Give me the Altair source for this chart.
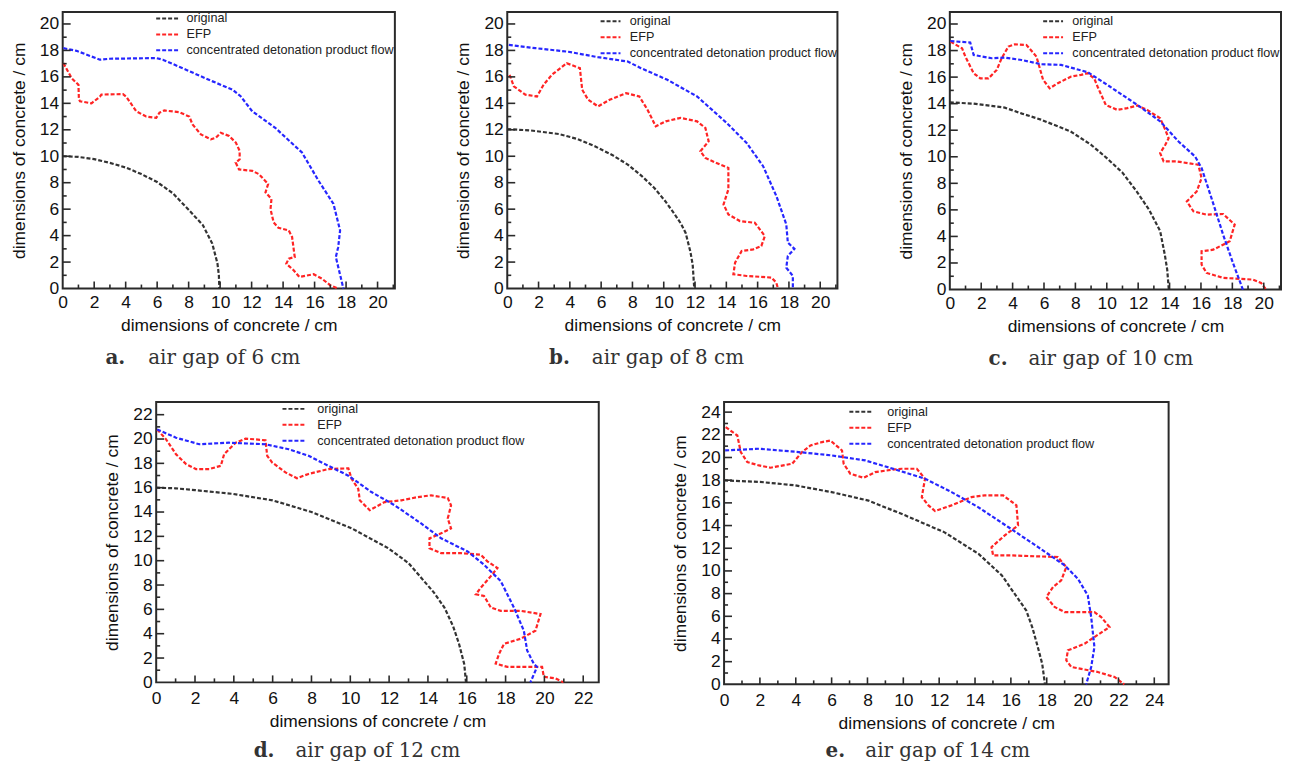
import altair as alt
import pandas as pd

SERIES = ["original", "EFP", "concentrated detonation product flow"]
COLORS = ["#333333", "#ff2424", "#2626ff"]
FRAME = "#2a2a2a"
FONT = "Liberation Sans"
AXIS_TITLE = "dimensions of concrete / cm"

# ---------------- panel a : air gap of 6 cm ----------------
A_ORIG_X = [0, 1, 2, 3, 4, 5, 6, 7, 8, 8.9, 9.5, 9.83, 9.92, 9.95]
A_ORIG_Y = [10.0, 9.95, 9.78, 9.5, 9.15, 8.65, 8.05, 7.2, 5.95, 4.8, 3.4, 1.9, 1.0, 0.0]
A_EFP_X = [0.04, 0.57, 1.0, 1.03, 1.1, 1.83, 2.36, 2.46, 3.83, 4.04, 4.67, 5.3, 5.94, 6.15, 6.46,
           7.4, 8.04, 8.25, 8.78, 9.41, 9.73, 10.04, 10.57, 11.0, 11.24, 11.24, 10.99, 11.2, 12.04,
           12.46, 13.05, 12.88, 13.26, 13.2, 13.4, 13.7, 14.36, 14.57, 14.74, 14.36, 14.2, 14.67,
           15.03, 15.94, 16.46, 16.99, 17.5]
A_EFP_Y = [17.04, 15.9, 15.4, 14.3, 14.16, 14.0, 14.5, 14.66, 14.7, 14.5, 13.4, 13.0, 12.9, 13.3,
           13.46, 13.33, 13.0, 12.4, 11.65, 11.28, 11.4, 11.78, 11.53, 11.03, 10.4, 9.77, 9.52, 9.0,
           8.9, 8.65, 7.9, 7.27, 6.77, 6.0, 5.0, 4.6, 4.39, 3.9, 2.38, 2.26, 1.88, 1.38, 0.88, 1.08,
           0.75, 0.25, 0.0]
A_CDPF_X = [0.04, 0.88, 2.36, 2.99, 5.94, 6.36, 7.83, 9.52, 10.78, 11.3, 12.04, 13.5, 15.2, 16.25,
            17.2, 17.62, 17.5, 17.35, 17.83]
A_CDPF_Y = [18.17, 17.97, 17.3, 17.37, 17.42, 17.3, 16.54, 15.66, 15.04, 14.54, 13.4, 12.15, 10.28,
            8.15, 6.4, 4.39, 3.13, 2.38, 0.0]

# ---------------- panel b : air gap of 8 cm ----------------
B_ORIG_X = [0, 1.5, 3.3, 4.5, 5.6, 6.7, 7.7, 8.6, 9.4, 10.1, 10.65, 11.1, 11.4, 11.7, 11.85, 11.95]
B_ORIG_Y = [12.05, 11.95, 11.68, 11.3, 10.75, 10.1, 9.37, 8.5, 7.6, 6.6, 5.7, 4.9, 4.2, 2.8, 1.8, 0.0]
B_EFP_X = [0.15, 0.42, 1.16, 1.9, 2.32, 2.85, 3.8, 4.64, 4.79, 5.17, 5.8, 6.54, 7.59, 8.44, 8.97,
           9.49, 10.13, 11.08, 12.13, 12.66, 12.87, 12.34, 12.66, 13.6, 14.13, 14.13, 13.82, 14.13,
           14.87, 15.82, 16.46, 16.24, 15.72, 14.98, 14.56, 14.45, 15.3, 16.88, 17.19, 17.3]
B_EFP_Y = [16.16, 15.28, 14.65, 14.52, 15.4, 16.16, 17.03, 16.66, 15.03, 14.27, 13.77, 14.27, 14.77,
           14.52, 13.5, 12.26, 12.64, 12.9, 12.64, 12.14, 11.13, 10.38, 9.87, 9.37, 9.12, 7.49, 6.36,
           5.6, 5.1, 4.97, 3.97, 3.22, 2.96, 2.84, 1.96, 1.08, 0.95, 0.83, 0.45, 0.0]
B_CDPF_X = [0.1, 1.8, 3.9, 5.8, 7.7, 8.54, 10.23, 12.13, 14.03, 15.3, 16.35, 17.2, 17.83, 17.93,
            18.35, 17.93, 17.83, 18.25, 18.25]
B_CDPF_Y = [18.42, 18.17, 17.9, 17.49, 17.16, 16.66, 15.78, 14.52, 12.51, 11.0, 9.25, 6.98, 4.85,
            3.47, 3.0, 2.46, 1.58, 0.95, 0.0]

# ---------------- panel c : air gap of 10 cm ----------------
C_ORIG_X = [0, 1.5, 3.5, 4.6, 5.8, 7.7, 9.0, 10.0, 11.0, 11.9, 12.7, 13.4, 13.7, 13.85, 13.95]
C_ORIG_Y = [14.1, 14.0, 13.7, 13.25, 12.8, 11.9, 10.9, 9.9, 8.8, 7.4, 6.0, 4.4, 2.6, 1.5, 0.0]
C_EFP_X = [0.04, 0.78, 0.99, 1.52, 1.94, 2.46, 2.99, 3.3, 3.73, 4.15, 4.88, 5.52, 5.73, 5.94, 6.36,
           6.88, 7.73, 8.36, 8.78, 9.2, 9.41, 9.94, 10.67, 11.3, 11.94, 12.57, 13.4, 13.73, 13.94,
           13.73, 13.4, 13.62, 14.46, 15.83, 16.04, 15.73, 15.1, 15.52, 16.36, 17.41, 18.15, 17.83,
           16.78, 16.04, 16.04, 16.36, 17.41, 19.3, 19.83, 20.15]
C_EFP_Y = [18.67, 18.17, 17.54, 16.29, 15.9, 15.9, 16.54, 17.42, 18.3, 18.47, 18.42, 17.54, 16.67,
           15.8, 15.16, 15.54, 16.04, 16.17, 16.29, 15.9, 15.29, 13.9, 13.53, 13.66, 13.86, 13.53,
           12.9, 12.03, 11.4, 10.9, 10.28, 9.65, 9.65, 9.4, 8.4, 7.39, 6.64, 5.89, 5.64, 5.69, 4.89,
           3.63, 3.0, 2.88, 1.88, 1.25, 0.88, 0.75, 0.5, 0.0]
C_CDPF_X = [0.04, 1.3, 1.52, 2.67, 3.5, 4.57, 5.83, 7.09, 8.78, 10.04, 11.94, 13.41, 14.57, 15.62,
            16.04, 16.67, 17.41, 18.04, 18.67]
C_CDPF_Y = [18.72, 18.6, 17.67, 17.42, 17.47, 17.29, 16.97, 16.92, 16.37, 15.41, 13.91, 12.66, 11.15,
            10.03, 9.15, 6.89, 4.14, 2.0, 0.0]

# ---------------- panel d : air gap of 12 cm ----------------
D_ORIG_X = [0, 1.0, 2.0, 3.9, 6.0, 8.0, 10.07, 11.95, 13.0, 13.65, 14.3, 14.85, 15.3, 15.6, 15.87, 15.96]
D_ORIG_Y = [16.0, 15.95, 15.8, 15.5, 14.96, 14.0, 12.66, 11.03, 9.8, 8.6, 7.4, 6.15, 4.6, 3.17, 1.5, 0.0]
D_EFP_X = [0.05, 0.51, 1.02, 1.54, 2.05, 2.73, 3.33, 3.5, 3.75, 4.1, 4.6, 5.12, 5.63, 5.72, 5.97,
           6.66, 7.25, 7.85, 8.87, 9.9, 10.07, 10.41, 10.49, 11.0, 11.77, 12.63, 13.48, 14.16, 15.02,
           15.19, 15.02, 15.19, 14.68, 14.08, 14.08, 14.68, 15.7, 16.72, 17.06, 17.58, 17.24, 16.72,
           16.47, 16.89, 17.24, 17.75, 18.77, 19.8, 19.54, 18.77, 17.92, 17.67, 17.49, 18.09, 19.88,
           19.97, 20.56, 20.99]
D_EFP_Y = [20.79, 19.97, 18.75, 17.94, 17.53, 17.53, 17.8, 18.75, 19.16, 19.7, 20.03, 19.97, 19.89,
           18.62, 18.08, 17.26, 16.78, 17.13, 17.53, 17.59, 16.72, 15.91, 14.96, 14.15, 14.82, 14.96,
           15.23, 15.37, 15.15, 14.55, 13.47, 12.66, 12.25, 11.84, 11.03, 10.62, 10.62, 10.49, 9.95,
           9.4, 8.73, 7.78, 7.24, 7.1, 6.15, 5.88, 5.88, 5.61, 4.25, 3.58, 3.17, 2.36, 1.54, 1.27,
           1.27, 0.46, 0.33, 0.0]
D_CDPF_X = [0.05, 1.02, 2.22, 3.75, 5.63, 6.83, 7.85, 8.87, 9.9, 11.09, 12.29, 13.65, 14.68, 16.04,
            16.89, 17.75, 18.43, 18.94, 19.11, 19.45, 19.62, 19.28]
D_CDPF_Y = [20.79, 20.11, 19.57, 19.7, 19.57, 19.16, 18.62, 17.8, 16.99, 15.64, 14.55, 13.06, 11.84,
            10.76, 9.67, 8.32, 6.15, 4.25, 2.63, 1.54, 1.27, 0.0]

# ---------------- panel e : air gap of 14 cm ----------------
E_ORIG_X = [0, 2.0, 3.98, 6.0, 8.06, 10.1, 12.3, 14.2, 15.5, 16.4, 16.86, 17.2, 17.5, 17.75, 17.9]
E_ORIG_Y = [17.98, 17.85, 17.54, 16.95, 16.2, 14.9, 13.4, 11.5, 9.6, 7.55, 6.5, 5.0, 3.3, 1.8, 0.0]
E_EFP_X = [0.09, 0.74, 0.93, 1.3, 1.95, 2.59, 3.8, 4.35, 4.82, 5.47, 5.93, 6.58, 6.67, 7.04, 7.78,
           8.43, 9.36, 9.91, 10.75, 11.21, 11.03, 11.4, 11.77, 12.69, 13.8, 14.54, 15.57, 16.31, 16.4,
           15.66, 14.92, 15.01, 16.03, 18.62, 19.09, 18.81, 18.35, 17.98, 18.44, 19.0, 20.66, 21.04,
           21.5, 20.66, 20.11, 19.18, 19.09, 19.37, 20.85, 21.78, 22.33]
E_EFP_Y = [22.68, 21.94, 20.48, 19.59, 19.3, 19.1, 19.45, 20.48, 21.06, 21.36, 21.5, 20.62, 19.45,
           18.57, 18.21, 18.71, 18.92, 19.01, 19.01, 18.13, 16.51, 15.78, 15.28, 15.78, 16.51, 16.66,
           16.66, 15.78, 14.01, 13.13, 12.1, 11.37, 11.37, 11.22, 10.34, 9.17, 8.58, 7.7, 6.82, 6.37,
           6.37, 5.93, 5.05, 4.17, 3.58, 3.0, 2.12, 1.53, 1.09, 0.65, 0.0]
E_CDPF_X = [0.06, 1.95, 4.17, 6.02, 7.88, 9.73, 11.21, 12.69, 14.17, 15.85, 17.52, 19.0, 19.74,
            20.29, 20.48, 20.66, 20.48, 20.2]
E_CDPF_Y = [20.62, 20.77, 20.48, 20.18, 19.74, 18.86, 18.13, 16.95, 15.63, 13.87, 12.1, 10.49, 9.31,
            7.84, 5.93, 3.29, 1.53, 0.0]

# ---------------- tick values ----------------
MAJOR_20 = [0, 2, 4, 6, 8, 10, 12, 14, 16, 18, 20]
MINOR_20 = [1, 3, 5, 7, 9, 11, 13, 15, 17, 19, 21]
MAJOR_22 = [0, 2, 4, 6, 8, 10, 12, 14, 16, 18, 20, 22]
MINOR_22 = [1, 3, 5, 7, 9, 11, 13, 15, 17, 19, 21]
MAJOR_24 = [0, 2, 4, 6, 8, 10, 12, 14, 16, 18, 20, 22, 24]
MINOR_24 = [1, 3, 5, 7, 9, 11, 13, 15, 17, 19, 21, 23]

CAPTIONS = ["air gap of 6 cm", "air gap of 8 cm", "air gap of 10 cm",
            "air gap of 12 cm", "air gap of 14 cm"]
LETTERS = ["a.", "b.", "c.", "d.", "e."]


def panel(curves, xmax, ymax, xmaj, xmin, ymaj, ymin, w, h, letter, caption,
          cap_x1, cap_x2, cap_dy, leg_x, leg_y, sym_size, sym_off, lab_off, xlab_pad):
    rows = []
    for name, (xs, ys) in zip(SERIES, curves):
        for i, (xv, yv) in enumerate(zip(xs, ys)):
            rows.append({"series": name, "x": xv, "y": yv, "i": i})
    df = pd.DataFrame(rows)
    xscale = alt.Scale(domain=[0, xmax], nice=False, zero=False)
    yscale = alt.Scale(domain=[0, ymax], nice=False, zero=False)
    xaxis = alt.Axis(values=xmaj, title=AXIS_TITLE, grid=False, ticks=False, domain=False,
                     labelFlush=False, labelPadding=xlab_pad, titlePadding=6, format="d")
    yaxis = alt.Axis(values=ymaj, title=AXIS_TITLE, grid=False, ticks=False, domain=False,
                     labelFlush=False, labelPadding=4, titlePadding=11, format="d")
    legend = alt.Legend(orient="none", legendX=leg_x, legendY=leg_y, title=None,
                        symbolSize=sym_size, symbolOffset=sym_off, labelOffset=lab_off)
    lines = alt.Chart(df).mark_line(strokeDash=[4, 2], strokeWidth=2.2).encode(
        x=alt.X("x:Q", scale=xscale, axis=xaxis),
        y=alt.Y("y:Q", scale=yscale, axis=yaxis),
        color=alt.Color("series:N", scale=alt.Scale(domain=SERIES, range=COLORS), legend=legend),
        order=alt.Order("i:Q"),
    )
    xmajor = alt.Chart(pd.DataFrame({"x": [v for v in xmaj if 0 < v < xmax]})).mark_rule(
        color=FRAME, strokeWidth=1.6).encode(
        x=alt.X("x:Q", scale=xscale, axis=xaxis), y=alt.value(h), y2=alt.value(h - 7))
    xminor = alt.Chart(pd.DataFrame({"x": [v for v in xmin if 0 < v < xmax]})).mark_rule(
        color=FRAME, strokeWidth=1.6).encode(
        x=alt.X("x:Q", scale=xscale, axis=xaxis), y=alt.value(h), y2=alt.value(h - 4))
    ymajor = alt.Chart(pd.DataFrame({"y": [v for v in ymaj if 0 < v < ymax]})).mark_rule(
        color=FRAME, strokeWidth=1.6).encode(
        y=alt.Y("y:Q", scale=yscale, axis=yaxis), x=alt.value(0), x2=alt.value(8))
    yminor = alt.Chart(pd.DataFrame({"y": [v for v in ymin if 0 < v < ymax]})).mark_rule(
        color=FRAME, strokeWidth=1.6).encode(
        y=alt.Y("y:Q", scale=yscale, axis=yaxis), x=alt.value(0), x2=alt.value(4))
    cap1 = alt.Chart(pd.DataFrame({"t": [letter]})).mark_text(
        font="DejaVu Serif", fontSize=20, fontWeight="bold", align="left", baseline="middle",
        color="#333333").encode(text="t:N", x=alt.value(cap_x1), y=alt.value(h + cap_dy))
    cap2 = alt.Chart(pd.DataFrame({"t": [caption]})).mark_text(
        font="DejaVu Serif", fontSize=20, align="left", baseline="middle",
        color="#333333").encode(text="t:N", x=alt.value(cap_x2), y=alt.value(h + cap_dy))
    return alt.layer(lines, xmajor, xminor, ymajor, yminor, cap1, cap2).properties(
        width=w, height=h)


# legend symbols: path "M-2,0H2" is 2*sqrt(size) long
pa = panel([(A_ORIG_X, A_ORIG_Y), (A_EFP_X, A_EFP_Y), (A_CDPF_X, A_CDPF_Y)], 21.1, 20.9,
           MAJOR_20, MINOR_20, MAJOR_20, MINOR_20, 334, 278, LETTERS[0], CAPTIONS[0],
           43, 86, 70, 94, 0, 121, 4.5, 13, 5)
pb = panel([(B_ORIG_X, B_ORIG_Y), (B_EFP_X, B_EFP_Y), (B_CDPF_X, B_CDPF_Y)], 21.1, 20.9,
           MAJOR_20, MINOR_20, MAJOR_20, MINOR_20, 332, 278, LETTERS[1], CAPTIONS[1],
           42, 85, 70, 94, 3, 100, 3.5, 13, 5)
pc = panel([(C_ORIG_X, C_ORIG_Y), (C_EFP_X, C_EFP_Y), (C_CDPF_X, C_CDPF_Y)], 21.1, 20.9,
           MAJOR_20, MINOR_20, MAJOR_20, MINOR_20, 333, 279, LETTERS[2], CAPTIONS[2],
           39, 79, 70, 94, 3, 100, 3.5, 13, 5)
pd_ = panel([(D_ORIG_X, D_ORIG_Y), (D_EFP_X, D_EFP_Y), (D_CDPF_X, D_CDPF_Y)], 22.8, 23.05,
            MAJOR_22, MINOR_22, MAJOR_22, MINOR_22, 445, 282, LETTERS[3], CAPTIONS[3],
            98, 140, 69, 127, 0, 144, 5, 16, 7)
pe = panel([(E_ORIG_X, E_ORIG_Y), (E_EFP_X, E_EFP_Y), (E_CDPF_X, E_CDPF_Y)], 24.8, 24.9,
           MAJOR_24, MINOR_24, MAJOR_24, MINOR_24, 447, 284, LETTERS[4], CAPTIONS[4],
           102, 142, 67, 126, 3, 144, 5, 19, 7)

spacer = alt.Chart(pd.DataFrame({"v": [0.5]})).mark_point(opacity=0).encode(
    x=alt.X("v:Q", axis=None, scale=alt.Scale(domain=[0, 1])),
    y=alt.Y("v:Q", axis=None, scale=alt.Scale(domain=[0, 1]))).properties(
    width=40, height=10, view=alt.ViewBackground(strokeOpacity=0))

top = alt.hconcat(pa, pb, pc, spacing=58).resolve_scale(color="independent").resolve_legend(
    color="independent")
bottom_inner = alt.hconcat(pd_, pe, spacing=71).resolve_scale(color="independent").resolve_legend(
    color="independent")
bottom = alt.hconcat(spacer, bottom_inner, spacing=0).resolve_scale(
    color="independent").resolve_legend(color="independent")

chart = alt.vconcat(top, bottom, spacing=31).resolve_scale(color="independent").resolve_legend(
    color="independent").properties(
    padding={"left": 1, "top": 1, "right": 0, "bottom": 0}
).configure_view(stroke=FRAME, strokeWidth=2).configure_axis(
    labelFont=FONT, labelFontSize=17.5, labelColor="#111111",
    titleFont=FONT, titleFontSize=17.5, titleFontWeight="normal", titleColor="#111111",
).configure_legend(
    labelFont=FONT, labelFontSize=12.7, labelColor="#222222", labelLimit=400,
    symbolType="M-2,0H2", symbolStrokeWidth=2, symbolDash=[4, 2], rowPadding=2, padding=0,
)

chart.save("out.html", embed_options={"renderer": "svg", "actions": False})
